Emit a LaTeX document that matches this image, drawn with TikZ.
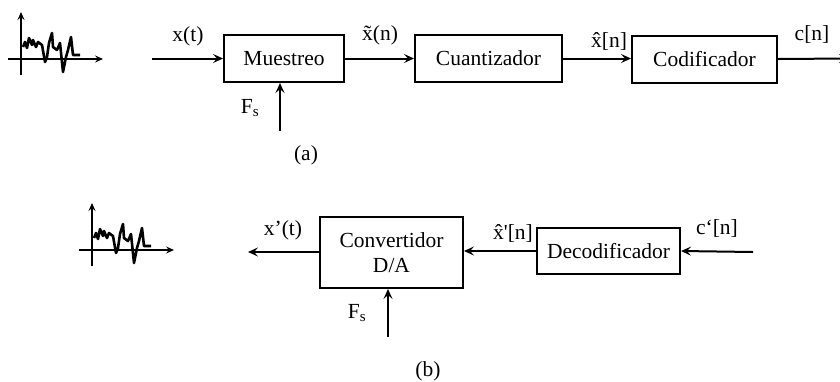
\documentclass[tikz,border=0pt]{standalone}
\usepackage{fontspec}
\setmainfont{Liberation Serif}
\usetikzlibrary{arrows.meta}
\begin{document}
\begin{tikzpicture}[x=1pt,y=-1pt,
  blk/.style={draw,line width=2pt,inner sep=0pt,minimum height=47pt},
  arr/.style={line width=2pt,-{Stealth[length=10pt,width=9pt,inset=4pt]}},
  axis/.style={line width=1.7pt,-{Stealth[length=8pt,width=7pt,inset=3pt]}},
  lbl/.style={inner sep=0pt},
  every node/.style={font=\fontsize{21.5}{25}\selectfont}]
\useasboundingbox (0,0) rectangle (840,381);
% signal icons
\foreach \ox/\oy in {21/59,92/250}{
\begin{scope}[shift={(\ox,\oy)}]
  \draw[axis] (0,16) -- (0,-47);
  \draw[axis] (-13,0) -- (82,0);
  \draw[line width=2.6pt,line join=round] (2,-12) -- (4,-17) -- (6,-11) -- (8,-21) -- (11,-14) -- (12,-19) -- (15,-12) -- (17,-17) -- (21,-14) -- (24,3) -- (26,-2) -- (28,-16) -- (31,-26) -- (32,-12) -- (36,-9) -- (39,-16) -- (42,13) -- (45,-2) -- (47,-9) -- (50,-22) -- (52,-4) -- (56,-4) -- (59,-4);
\end{scope}}
% top chain
\node[blk,minimum width=120pt] (mues) at (284,58.5) {Muestreo};
\node[blk,minimum width=147pt] (cuan) at (488.5,58.5) {Cuantizador};
\node[blk,minimum width=145pt] (codi) at (704.5,59) {Codificador};
\coordinate (xin) at (152,58.5);
\coordinate (cout) at (849,58.5);
\coordinate (fsa) at (280,131);
\draw[arr] (xin) -- (mues.west);
\draw[arr] (mues.east) -- (cuan.west);
\draw[arr] (cuan.east) -- (cuan.east -| codi.west);
\draw[arr] (codi.east) -- (cout);
\draw[arr] (fsa) -- (fsa |- mues.south);
\node[lbl] (lxt) at (188,36) {x(t)};
\node[lbl] (lxn) at (380,35) {\~x(n)};
\node[lbl] (lxh) at (609,41) {\^x[n]};
\node[lbl] (lcn) at (812,34) {c[n]};
\node[lbl] (lfsa) at (250,108) {F\textsubscript{s}};
\node[lbl] (la) at (306,155) {(a)};
% bottom chain
\node[blk,minimum width=143pt,minimum height=71pt,align=center] (conv) at (391.5,252.5) {Convertidor\\D/A};
\node[blk,minimum width=143pt,minimum height=46pt] (deco) at (608.5,251) {Decodificador};
\coordinate (xout) at (248,252);
\coordinate (cin) at (753,252);
\coordinate (fsb) at (388,337);
\draw[arr] (deco.west) -- (deco.west -| conv.east);
\draw[arr] (conv.west |- xout) -- (xout);
\draw[arr] (cin) -- (deco.east);
\draw[arr] (fsb) -- (fsb |- conv.south);
\node[lbl] (lxp) at (283,230) {x’(t)};
\node[lbl] (lxhp) at (513,233) {\^x\textquotesingle[n]};
\node[lbl] (lcp) at (717,228) {c‘[n]};
\node[lbl] (lfsb) at (357,313) {F\textsubscript{s}};
\node[lbl] (lb) at (428,371) {(b)};
\end{tikzpicture}
\end{document}
